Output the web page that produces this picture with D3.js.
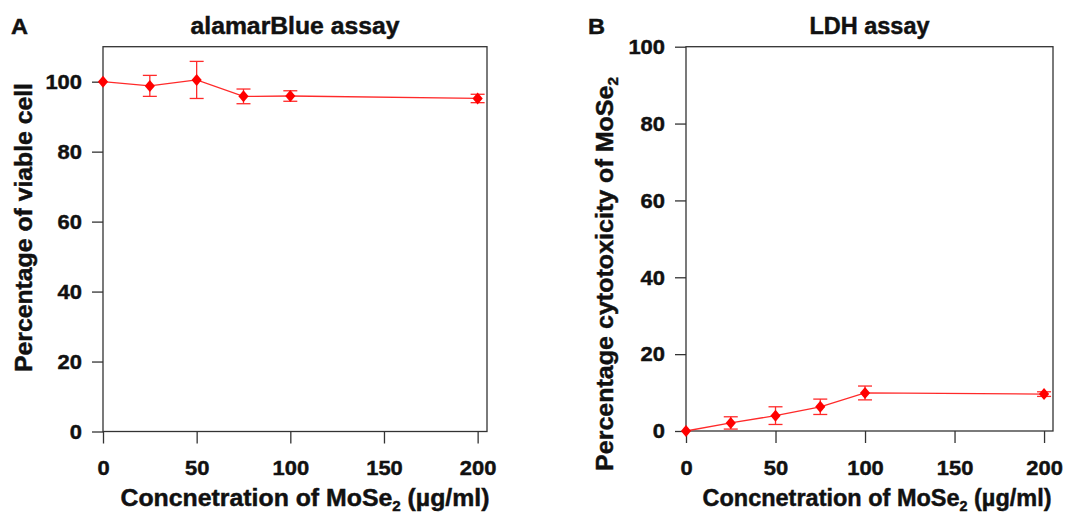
<!DOCTYPE html>
<html>
<head>
<meta charset="utf-8">
<script src="https://cdn.jsdelivr.net/npm/d3@7"></script>
<style>
  body { margin: 0; background: #fff; }
  svg text { font-family: "Liberation Sans", Arial, sans-serif; font-weight: bold; fill: #111; stroke: #111; stroke-width: 0.45px; }
</style>
</head>
<body>
<div id="chart"></div>
<script>
// concentrations (µg/ml)
const doses = [0, 25, 50, 75, 100, 200];
// alamarBlue: percentage of viable cells, mean and error
const viability = [100, 98.8, 100.5, 95.8, 95.9, 95.2];
const viabilityErr = [0, 3.0, 5.3, 2.1, 1.5, 1.2];
// LDH: percentage cytotoxicity, mean and error
const cytotox = [0, 2.1, 4.0, 6.3, 9.9, 9.6];
const cytotoxErr = [0, 1.6, 2.3, 2.0, 1.8, 0.6];

const xTicks = [0, 50, 100, 150, 200];
const yTicks = [0, 20, 40, 60, 80, 100];

const W = 1086, H = 514;
const svg = d3.select('#chart').append('svg')
  .attr('width', W)
  .attr('height', H);

// diamond marker, a bit taller than wide
const diamond = {
  draw(ctx, size) {
    const h = Math.sqrt(size) * 0.6, w = h * 0.85;
    ctx.moveTo(0, -h); ctx.lineTo(w, 0); ctx.lineTo(0, h); ctx.lineTo(-w, 0); ctx.closePath();
  }
};

function stretch(sel, perChar) {
  sel.attr('textLength', function() { return this.textContent.length * perChar; })
    .attr('lengthAdjust', 'spacingAndGlyphs');
}

function drawPanel(cfg) {
  const x = d3.scaleLinear().domain([0, 205]).range([cfg.left, cfg.right]);
  const y = d3.scaleLinear().domain([0, cfg.yMax]).range([cfg.bottom, cfg.top]);
  const g = svg.append('g');

  // x axis
  const xa = g.append('g')
    .attr('transform', `translate(0,${cfg.bottom})`)
    .call(d3.axisBottom(x).tickValues(xTicks).tickSize(12).tickPadding(17));
  // y axis
  const ya = g.append('g')
    .attr('transform', `translate(${cfg.left},0)`)
    .call(d3.axisLeft(y).tickValues(yTicks).tickSize(11).tickPadding(10));

  [xa, ya].forEach(a => {
    a.select('.domain').remove();
    a.selectAll('line').attr('stroke', '#333').attr('stroke-width', 1.3);
    a.selectAll('text').style('font-size', '21px').attr('fill', '#111');
    stretch(a.selectAll('text'), 12.2);
  });

  // frame
  g.append('rect')
    .attr('x', cfg.left).attr('y', cfg.top)
    .attr('width', cfg.right - cfg.left)
    .attr('height', cfg.bottom - cfg.top)
    .attr('fill', 'none')
    .attr('stroke', '#333')
    .attr('stroke-width', 1.3);

  // line
  const pts = doses.map((d, i) => ({ x: d, y: cfg.values[i], e: cfg.errors[i] }));
  g.append('path')
    .datum(pts)
    .attr('fill', 'none')
    .attr('stroke', '#ff2a2a')
    .attr('stroke-width', 1.3)
    .attr('d', d3.line().x(d => x(d.x)).y(d => y(d.y)));

  // error bars
  const eb = g.selectAll('.err')
    .data(pts.filter(d => d.e > 0))
    .enter().append('g')
    .attr('class', 'err')
    .attr('stroke', '#ff2a2a')
    .attr('stroke-width', 1.3);
  eb.append('line')
    .attr('x1', d => x(d.x)).attr('x2', d => x(d.x))
    .attr('y1', d => y(d.y - d.e)).attr('y2', d => y(d.y + d.e));
  eb.append('line')
    .attr('x1', d => x(d.x) - 7).attr('x2', d => x(d.x) + 7)
    .attr('y1', d => y(d.y + d.e)).attr('y2', d => y(d.y + d.e));
  eb.append('line')
    .attr('x1', d => x(d.x) - 7).attr('x2', d => x(d.x) + 7)
    .attr('y1', d => y(d.y - d.e)).attr('y2', d => y(d.y - d.e));

  // markers
  g.selectAll('.pt')
    .data(pts)
    .enter().append('path')
    .attr('class', 'pt')
    .attr('transform', d => `translate(${x(d.x)},${y(d.y)})`)
    .attr('d', d3.symbol().type(diamond).size(100))
    .attr('fill', '#ff0000');

  // panel letter
  g.append('text')
    .attr('x', cfg.letterX).attr('y', 33.5)
    .style('font-size', '22px')
    .attr('textLength', 17).attr('lengthAdjust', 'spacingAndGlyphs')
    .text(cfg.letter);

  // title
  g.append('text')
    .attr('x', (cfg.left + cfg.right) / 2).attr('y', 33.5)
    .attr('text-anchor', 'middle')
    .style('font-size', '23px')
    .attr('textLength', cfg.titleLen).attr('lengthAdjust', 'spacingAndGlyphs')
    .text(cfg.title);

  // x label
  const xl = g.append('text')
    .attr('x', cfg.xLabelX).attr('y', 506)
    .attr('text-anchor', 'middle')
    .style('font-size', '23px')
    .attr('textLength', cfg.xLabelLen).attr('lengthAdjust', 'spacingAndGlyphs');
  xl.append('tspan').text('Concnetration of MoSe');
  xl.append('tspan').attr('dy', 5).style('font-size', '14px').text('2');
  xl.append('tspan').attr('dy', -5).text(' (µg/ml)');

  // y label
  const yl = g.append('text')
    .attr('transform', `translate(${cfg.yLabelX},${cfg.yLabelY}) rotate(-90)`)
    .attr('text-anchor', 'middle')
    .style('font-size', '23px')
    .attr('textLength', cfg.yLabelLen).attr('lengthAdjust', 'spacingAndGlyphs');
  yl.append('tspan').text(cfg.yLabel);
  if (cfg.yLabelSub) {
    yl.append('tspan').attr('dy', 5).style('font-size', '14px').text(cfg.yLabelSub);
  }
}

drawPanel({
  letter: 'A', letterX: 11,
  title: 'alamarBlue assay', titleLen: 209,
  left: 103, right: 487, top: 46.7, bottom: 431.5, yMax: 110,
  values: viability, errors: viabilityErr,
  xLabelX: 305, xLabelLen: 369,
  yLabel: 'Percentage of viable cell', yLabelSub: null,
  yLabelX: 32, yLabelY: 227.5, yLabelLen: 289
});

drawPanel({
  letter: 'B', letterX: 588,
  title: 'LDH assay', titleLen: 120,
  left: 686, right: 1053, top: 46.7, bottom: 431, yMax: 100,
  values: cytotox, errors: cytotoxErr,
  xLabelX: 877, xLabelLen: 349,
  yLabel: 'Percentage cytotoxicity of MoSe', yLabelSub: '2',
  yLabelX: 613, yLabelY: 274, yLabelLen: 394
});
</script>
</body>
</html>
